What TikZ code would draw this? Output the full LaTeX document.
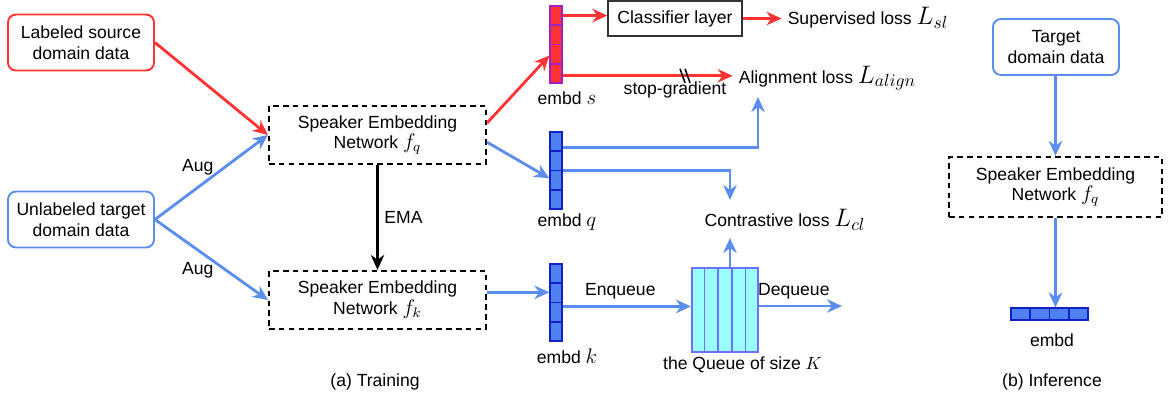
\documentclass[tikz,border=0pt]{standalone}
\usepackage{fontspec}
\setmainfont{Liberation Sans}
\usetikzlibrary{arrows.meta,calc}

\definecolor{srcred}{HTML}{FF3333}
\definecolor{tgtblue}{HTML}{5B8DEF}
\definecolor{cellblue}{HTML}{4F82F0}
\definecolor{celledge}{HTML}{1020C8}
\definecolor{cellpurple}{HTML}{A020C0}
\definecolor{queuecyan}{HTML}{99FFFF}
\definecolor{queueedge}{HTML}{7070FF}

\begin{document}
\begin{tikzpicture}[
    x=0.02cm, y=-0.02cm,
    font=\fontsize{10}{11.8}\selectfont,
    data/.style={draw, rounded corners=4.5pt, line width=1.1pt, align=center,
      minimum width=2.92cm, minimum height=1.12cm, inner sep=1pt},
    net/.style={draw, dash pattern=on 3.2pt off 2.4pt, line width=1.3pt, align=center,
      minimum width=4.34cm, minimum height=1.16cm, inner sep=1pt},
    vbar/.style={draw=celledge, fill=cellblue, line width=0.7pt,
      minimum width=0.24cm, minimum height=1.54cm, inner sep=0pt},
    arr/.style={-{Stealth[length=3mm, width=2.7mm]}, line width=1.6pt},
    redarr/.style={arr, srcred, text=black},
    bluearr/.style={arr, tgtblue, text=black}
  ]
    \useasboundingbox (0,0) rectangle (1170,400);

    % input data
    \node[data, draw=srcred] (src) at (81,42.5) {Labeled source\\domain data};
    \node[data, draw=tgtblue] (tgt) at (81,219.5) {Unlabeled target\\domain data};

    % encoders
    \node[net] (fq) at (377.5,135) {Speaker Embedding\\Network {\large$f_q$}};
    \node[net] (fk) at (377.5,300) {Speaker Embedding\\Network {\large$f_k$}};

    \draw[redarr] (src.east) -- (fq.west);
    \draw[bluearr] (tgt.east) -- node[pos=0.38, above=3pt] {Aug} (fq.west);
    \draw[bluearr] (tgt.east) -- node[pos=0.38, below=3pt] {Aug} (fk.west);
    \draw[arr, black, line width=1.2pt] (fq) -- node[right] {EMA} (fk);

    % embeddings
    \node[vbar, draw=cellpurple, fill=srcred] (es) at (556,44.5) {};
    \node[vbar] (eq) at (556,170.5) {};
    \node[vbar] (ek) at (556,302.5) {};
    \foreach \i in {1,2,3} {
      \draw[cellpurple, line width=0.7pt] ($(es.north west)!\i/4!(es.south west)$) -- ($(es.north east)!\i/4!(es.south east)$);
      \draw[celledge, line width=0.7pt] ($(eq.north west)!\i/4!(eq.south west)$) -- ($(eq.north east)!\i/4!(eq.south east)$);
      \draw[celledge, line width=0.7pt] ($(ek.north west)!\i/4!(ek.south west)$) -- ($(ek.north east)!\i/4!(ek.south east)$);
    }
    \node (esl) at (567,98) {embd {\large$s$}};
    \node (eql) at (567,222) {embd {\large$q$}};
    \node (ekl) at (567,356) {embd {\large$k$}};

    \coordinate (sin) at ($(es.north west)!0.64!(es.south west)$);
    \coordinate (stop) at ($(es.north east)!0.13!(es.south east)$);
    \coordinate (sbot) at ($(es.north east)!0.9!(es.south east)$);
    \coordinate (qin) at ($(eq.north west)!0.6!(eq.south west)$);
    \coordinate (qtop) at ($(eq.north east)!0.21!(eq.south east)$);
    \coordinate (qmid) at ($(eq.north east)!0.5!(eq.south east)$);
    \coordinate (kin) at ($(ek.north west)!0.37!(ek.south west)$);
    \coordinate (kout) at ($(ek.north east)!0.55!(ek.south east)$);

    \draw[redarr] ($(fq.north east)!0.3!(fq.south east)$) -- (sin);
    \draw[bluearr] ($(fq.north east)!0.62!(fq.south east)$) -- (qin);
    \draw[bluearr] (fk.east |- kin) -- (kin);

    % supervised branch
    \node[draw=black!80, line width=0.7pt, minimum width=2.68cm, minimum height=0.7cm] (cls) at (675,18.5) {Classifier layer};
    \node (sl) at (868,18) {Supervised loss {\Large$L_{sl}$}};
    \draw[redarr] (stop) -- (stop -| cls.west);
    \draw[redarr] (cls.east) -- (cls.east -| sl.west);

    % alignment branch
    \node (al) at (827.5,78) {Alignment loss {\Large$L_{align}$}};
    \draw[redarr] (sbot) -- coordinate[pos=0.72] (sg) (sbot -| al.west);
    \draw[black, line width=0.9pt] ($(sg)+(-5,-7)$) -- ($(sg)+(0,7)$)
      ($(sg)+(0,-7)$) -- ($(sg)+(5,7)$);
    \node (sgl) at (675,90) {stop-gradient};
    \coordinate (alin) at (758,97);
    \draw[bluearr] (qtop) -| (alin);

    % contrastive branch
    \node (cl) at (785,220) {Contrastive loss {\Large$L_{cl}$}};
    \coordinate (clin) at (730,200);
    \coordinate (clbot) at (730,238);
    \draw[bluearr] (qmid) -| (clin);

    % queue
    \node[draw=queueedge, fill=queuecyan, line width=0.9pt, minimum width=1.33cm,
      minimum height=1.68cm, inner sep=0pt] (queue) at (725,310) {};
    \foreach \i in {1,...,4}
      \draw[queueedge, line width=0.9pt] ($(queue.north west)!\i/5!(queue.north east)$) -- ($(queue.south west)!\i/5!(queue.south east)$);
    \node (ql) at (742.5,365) {the Queue of size $K$};
    \coordinate (deq) at (842,306);
    \draw[bluearr] (kout) -- node[above, pos=0.45] {Enqueue} (kout -| queue.west);
    \draw[bluearr] (queue.east |- deq) -- node[above, pos=0.42] {Dequeue} (deq);
    \draw[bluearr] (queue.north -| clbot) -- (clbot);

    \node (tr) at (375,382) {(a) Training};

    % inference
    \node[data, draw=tgtblue, minimum width=2.52cm] (tgti) at (1056,47) {Target\\domain data};
    \node[net, minimum width=4.26cm, minimum height=1.2cm] (fqi) at (1055.5,187) {Speaker Embedding\\Network {\large$f_q$}};
    \node[draw=celledge, fill=cellblue, line width=0.7pt, minimum width=1.54cm,
      minimum height=0.24cm, inner sep=0pt] (ei) at (1049.5,314) {};
    \foreach \i in {1,2,3}
      \draw[celledge, line width=0.7pt] ($(ei.north west)!\i/4!(ei.north east)$) -- ($(ei.south west)!\i/4!(ei.south east)$);
    \draw[bluearr] (tgti.south -| fqi.north) -- (fqi.north);
    \draw[bluearr] (fqi.south) -- (fqi.south |- ei.north);
    \node (eil) at (1052,340) {embd};
    \node (inf) at (1052,382) {(b) Inference};
  \end{tikzpicture}
\end{document}
